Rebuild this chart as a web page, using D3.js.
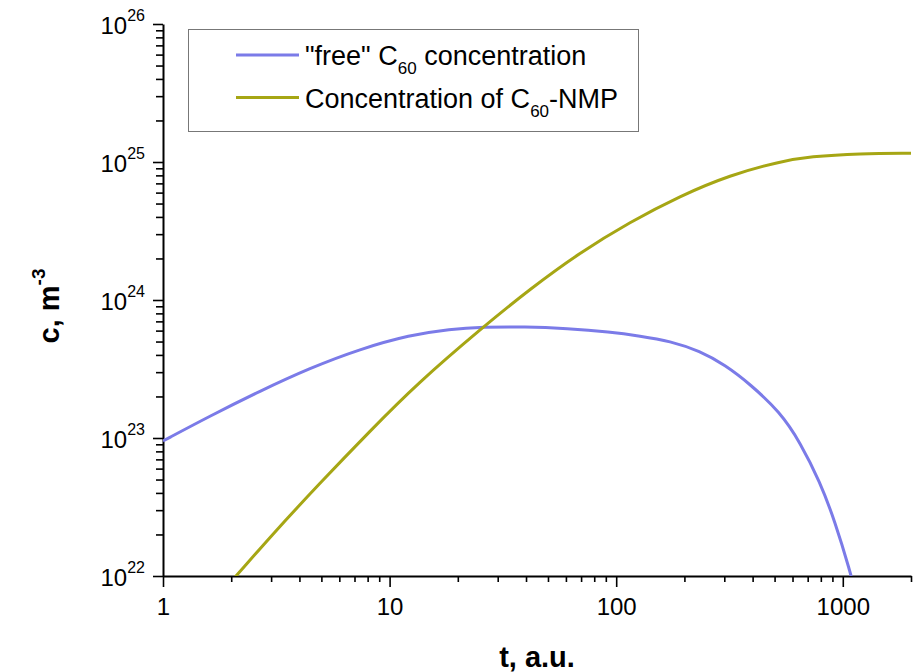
<!DOCTYPE html>
<html>
<head>
<meta charset="utf-8">
<script src="https://cdn.jsdelivr.net/npm/d3@7"></script>
<style>
  html, body { margin: 0; padding: 0; background: #fff; }
  svg { display: block; font-family: "Liberation Sans", Arial, sans-serif; }
</style>
</head>
<body>
<svg id="chart" width="916" height="672"></svg>
<script>
// "free" C60 concentration vs time
const freeT = [1, 1.612, 2.680, 4.454, 7.404, 12.30, 18.48, 25.84, 39.58, 60.66, 93.9, 127.4, 172.8, 234.3, 302.1, 389.5, 528.4, 647.4, 793.3, 923.9, 1076, 1144];
const freeC = [9.512e22, 1.443e23, 2.191e23, 3.215e23, 4.415e23, 5.578e23, 6.164e23, 6.374e23, 6.406e23, 6.216e23, 5.865e23, 5.484e23, 5.045e23, 4.270e23, 3.381e23, 2.462e23, 1.543e23, 9.355e22, 4.800e22, 2.483e22, 1.087e22, 7.28e21];

// C60-NMP complex concentration vs time
const nmpT = [1.995, 2.115, 2.966, 4.931, 8.196, 13.17, 25.84, 41.66, 69.23, 115.1, 191.2, 317.8, 528.4, 716.6, 1191, 2000];
const nmpC = [9.124e21, 1.008e22, 1.917e22, 4.721e22, 1.124e23, 2.462e23, 6.374e23, 1.201e24, 2.209e24, 3.675e24, 5.670e24, 8.051e24, 1.008e25, 1.096e25, 1.152e25, 1.156e25];

const xMajor = [1, 10, 100, 1000];
const xMinor = [2,3,4,5,6,7,8,9,20,30,40,50,60,70,80,90,200,300,400,500,600,700,800,900,2000];
const yMajorExp = [22, 23, 24, 25, 26];

const seriesNames = ['"free" C', 'Concentration of C'];
const colors = ["#7b7be8", "#a6a614"];

const svg = d3.select("#chart");
const plotLeft = 163, plotRight = 911, plotTop = 24, plotBottom = 576;

const x = d3.scaleLog().domain([1, 2000]).range([plotLeft, plotRight]);
const y = d3.scaleLog().domain([1e22, 1e26]).range([plotBottom, plotTop]);

const yMinor = [];
for (let e = 22; e < 26; e++) for (let k = 2; k <= 9; k++) yMinor.push(k * Math.pow(10, e));

// clip region for the curves
svg.append("clipPath").attr("id", "plotClip")
  .append("rect").attr("x", plotLeft).attr("y", plotTop)
  .attr("width", plotRight - plotLeft).attr("height", plotBottom - plotTop);

// x axis: minor then major ticks
const gxMinor = svg.append("g").attr("transform", `translate(0,${plotBottom})`)
  .call(d3.axisBottom(x).tickValues(xMinor).tickSize(6).tickSizeOuter(0).tickFormat(""));
const gx = svg.append("g").attr("transform", `translate(0,${plotBottom})`)
  .call(d3.axisBottom(x).tickValues(xMajor).tickSize(11).tickSizeOuter(0).tickFormat(d3.format("d")));

// y axis: minor then major ticks
const gyMinor = svg.append("g").attr("transform", `translate(${plotLeft},0)`)
  .call(d3.axisLeft(y).tickValues(yMinor).tickSize(7).tickSizeOuter(0).tickFormat(""));
const gy = svg.append("g").attr("transform", `translate(${plotLeft},0)`)
  .call(d3.axisLeft(y).tickValues(yMajorExp.map(e => Math.pow(10, e))).tickSize(10).tickSizeOuter(0).tickFormat(""));

[gxMinor, gx, gyMinor, gy].forEach(g => {
  g.select(".domain").attr("stroke", "#000").attr("stroke-width", 2);
  g.selectAll(".tick line").attr("stroke", "#000").attr("stroke-width", 1.6);
});
gxMinor.select(".domain").remove();
gyMinor.select(".domain").remove();

gx.selectAll(".tick text")
  .attr("fill", "#000").attr("font-size", 24).attr("font-family", "Liberation Sans, Arial, sans-serif")
  .attr("dy", null).attr("y", 39);

// y tick labels as 10 with superscript exponent
gy.selectAll(".tick").each(function(d) {
  const e = Math.round(Math.log10(d));
  const t = d3.select(this).append("text")
    .attr("x", -18).attr("y", 9).attr("text-anchor", "end")
    .attr("fill", "#000").attr("font-family", "Liberation Sans, Arial, sans-serif");
  t.append("tspan").attr("font-size", 24).text("10");
  t.append("tspan").attr("font-size", 16).attr("dy", -13).text(e);
});

// curves
const line = d3.line().x(d => x(d[0])).y(d => y(d[1])).curve(d3.curveBasis);
const plot = svg.append("g").attr("clip-path", "url(#plotClip)");
plot.append("path").datum(freeT.map((t, i) => [t, freeC[i]]))
  .attr("d", line).attr("fill", "none").attr("stroke", colors[0]).attr("stroke-width", 3);
plot.append("path").datum(nmpT.map((t, i) => [t, nmpC[i]]))
  .attr("d", line).attr("fill", "none").attr("stroke", colors[1]).attr("stroke-width", 3);

// axis titles
svg.append("text").attr("x", 537).attr("y", 667).attr("text-anchor", "middle")
  .attr("font-size", 29).attr("font-weight", "bold").attr("fill", "#000").text("t, a.u.");

const yt = svg.append("text").attr("transform", "translate(59,306) rotate(-90)")
  .attr("text-anchor", "middle").attr("font-size", 29).attr("font-weight", "bold").attr("fill", "#000");
yt.append("tspan").text("c, m");
yt.append("tspan").attr("font-size", 19).attr("dy", -14).text("-3");

// legend
const lg = svg.append("g");
lg.append("rect").attr("x", 188.5).attr("y", 29.5).attr("width", 450).attr("height", 102)
  .attr("fill", "#fff").attr("stroke", "#777").attr("stroke-width", 1);
const rows = [
  { y: 55, name: seriesNames[0], tail: " concentration", color: colors[0] },
  { y: 97.5, name: seriesNames[1], tail: "-NMP", color: colors[1] }
];
rows.forEach(r => {
  lg.append("line").attr("x1", 236).attr("x2", 299).attr("y1", r.y).attr("y2", r.y)
    .attr("stroke", r.color).attr("stroke-width", 3);
  const t = lg.append("text").attr("x", 305).attr("y", r.y + 10)
    .attr("font-size", 27).attr("fill", "#000");
  t.append("tspan").text(r.name);
  t.append("tspan").attr("font-size", 17).attr("dy", 9).text("60");
  t.append("tspan").attr("dy", -9).text(r.tail);
});
</script>
</body>
</html>
